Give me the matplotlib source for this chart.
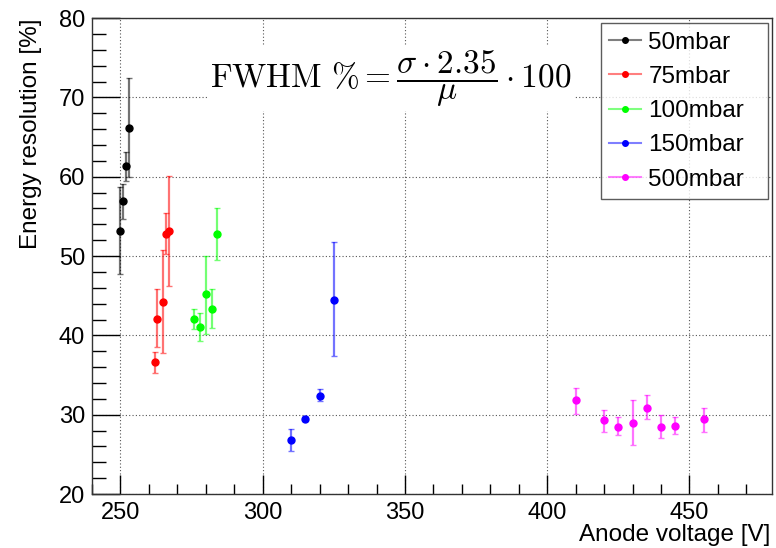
import numpy as np
import matplotlib; matplotlib.use('Agg'); import matplotlib.pyplot as plt
from matplotlib.ticker import MultipleLocator
from matplotlib.lines import Line2D
from matplotlib.colors import to_rgba

plt.rcParams['font.family'] = ['Liberation Sans', 'DejaVu Sans']
plt.rcParams['mathtext.fontset'] = 'cm'

# ---- data (voltage [V], resolution [%], lower / upper error) ----
labels = ['50mbar', '75mbar', '100mbar', '150mbar', '500mbar']
colors = ['black', 'red', '#00ff00', 'blue', 'magenta']

v50 = [250, 251, 252, 253]
r50 = [53.2, 56.95, 61.3, 66.2]
lo50 = [5.4, 2.25, 1.8, 6.2]
hi50 = [5.5, 2.1, 1.8, 6.3]

v75 = [262, 263, 265, 266, 267]
r75 = [36.7, 42.05, 44.2, 52.8, 53.2]
lo75 = [1.4, 3.55, 6.4, 2.6, 6.95]
hi75 = [1.2, 3.75, 6.6, 2.6, 6.9]

v100 = [276, 278, 280, 282, 284]
r100 = [42.05, 41.05, 45.2, 43.35, 52.8]
lo100 = [1.25, 1.7, 5.0, 2.45, 3.3]
hi100 = [1.3, 1.75, 4.85, 2.45, 3.3]

v150 = [310, 315, 320, 325]
r150 = [26.8, 29.5, 32.4, 44.5]
lo150 = [1.4, 0.3, 0.7, 7.15]
hi150 = [1.4, 0.3, 0.8, 7.3]

v500 = [410, 420, 425, 430, 435, 440, 445, 455]
r500 = [31.8, 29.3, 28.5, 29.0, 30.9, 28.4, 28.6, 29.4]
lo500 = [1.7, 1.5, 1.05, 2.8, 1.4, 1.4, 1.0, 1.6]
hi500 = [1.6, 1.3, 1.2, 2.9, 1.6, 1.6, 1.1, 1.4]

series = [(v50, r50, lo50, hi50), (v75, r75, lo75, hi75), (v100, r100, lo100, hi100),
          (v150, r150, lo150, hi150), (v500, r500, lo500, hi500)]

fig = plt.figure(figsize=(7.76, 5.48), dpi=100)
ax = fig.add_axes([0.1186, 0.0985, 0.8762, 0.8685])

handles = []
for (x, y, lo, hi), c, lab in zip(series, colors, labels):
    ax.errorbar(x, y, yerr=[lo, hi], fmt='o', ms=5, color=c, mec=c,
                ecolor=to_rgba(c, 0.55), elinewidth=1.6,
                capsize=2, capthick=1, zorder=3)
    handles.append(Line2D([], [], color=to_rgba(c, 0.5), lw=1.5, marker='o', ms=4,
                          mfc=c, mec=c, label=lab))

ax.set_xlim(240, 479)
ax.set_ylim(20, 80)
ax.xaxis.set_major_locator(MultipleLocator(50))
ax.xaxis.set_minor_locator(MultipleLocator(10))
ax.yaxis.set_major_locator(MultipleLocator(10))
ax.yaxis.set_minor_locator(MultipleLocator(2))
ax.tick_params(axis='x', which='major', direction='in', length=14, width=1, labelsize=17, pad=6)
ax.tick_params(axis='x', which='minor', direction='in', length=7, width=1)
ax.tick_params(axis='y', which='major', direction='in', length=20, width=1, labelsize=17, pad=5)
ax.tick_params(axis='y', which='minor', direction='in', length=10, width=1)
ax.grid(True, which='major', color='#555555', ls=(0, (1, 2)), lw=0.8)
for s in ax.spines.values():
    s.set_color('#333333'); s.set_linewidth(1)

fig.text(770 / 776, 1 - 535 / 548, 'Anode voltage [V]', fontsize=17.5, ha='right', va='center')
ax.set_ylabel('Energy resolution [%]', fontsize=17.5, loc='top', labelpad=12)

ax.text(345, 72.4, r'$\mathrm{FWHM}\ \% = \dfrac{\sigma \cdot 2.35}{\mu} \cdot 100$',
        fontsize=24, ha='center', va='center', zorder=4,
        bbox=dict(facecolor='white', edgecolor='none', pad=2))

leg = ax.legend(handles=handles, loc='upper left', bbox_to_anchor=(0.7485, 0.5, 0.2456, 0.489),
                mode='expand', fontsize=17.5, frameon=True, fancybox=False, edgecolor='#333333',
                borderpad=0.35, labelspacing=0.5, handlelength=1.3, handletextpad=0.3,
                borderaxespad=0)
leg.get_frame().set_linewidth(1)

fig.savefig('out.png', dpi=100)
